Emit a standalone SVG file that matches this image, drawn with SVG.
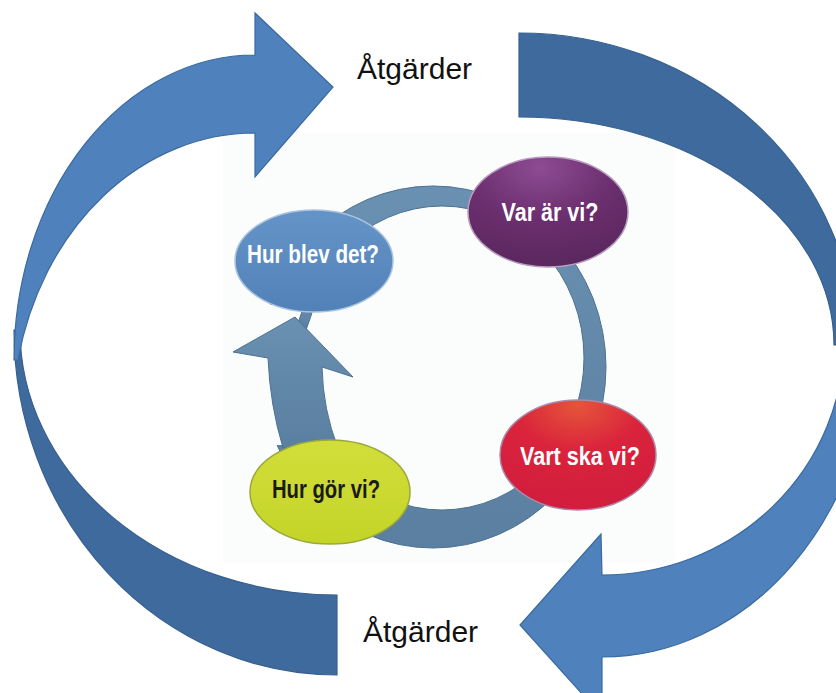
<svg xmlns="http://www.w3.org/2000/svg" width="836" height="693" viewBox="0 0 836 693">
  <defs>
    <style>
      .big-light { fill: #4F81BD; stroke: #3A6A9E; stroke-width: 1.2; }
      .big-dark { fill: #3F6A9D; stroke: #36608F; stroke-width: 1.2; }
      .ring { fill: url(#ringGrad); stroke: #4C7192; stroke-width: 1; }
      .lbl { font-family: "Liberation Sans", Arial, sans-serif; font-size: 30px; fill: #111111; }
      .node-text { font-family: "Liberation Sans", Arial, sans-serif; font-weight: bold; font-size: 25px; text-anchor: middle; }
    </style>
    <linearGradient id="ringGrad" x1="0" y1="0" x2="0" y2="1">
      <stop offset="0" stop-color="#6A90B2"/>
      <stop offset="1" stop-color="#5A7FA0"/>
    </linearGradient>
    <linearGradient id="blueGrad" x1="0" y1="0" x2="0" y2="1">
      <stop offset="0" stop-color="#6494C7"/>
      <stop offset="1" stop-color="#5281B8"/>
    </linearGradient>
    <radialGradient id="purpleGrad" cx="0.45" cy="0.1" r="0.9">
      <stop offset="0" stop-color="#8E4C92"/>
      <stop offset="0.5" stop-color="#6C2F6F"/>
      <stop offset="1" stop-color="#5A275E"/>
    </radialGradient>
    <radialGradient id="redGrad" cx="0.5" cy="0.05" r="0.9">
      <stop offset="0" stop-color="#E5553A"/>
      <stop offset="0.45" stop-color="#DA243C"/>
      <stop offset="1" stop-color="#D21D3E"/>
    </radialGradient>
    <linearGradient id="yellowGrad" x1="0" y1="0" x2="0" y2="1">
      <stop offset="0" stop-color="#D2DE3A"/>
      <stop offset="1" stop-color="#C4D427"/>
    </linearGradient>
    <clipPath id="ringClip">
      <path clip-rule="evenodd" d="M0,0 H836 V693 H0 Z M200,305 H345 V445 H200 Z"/>
    </clipPath>
  </defs>

  <rect x="0" y="0" width="836" height="693" fill="#FFFFFF"/>
  <rect x="223" y="133" width="451" height="430" fill="#FBFCFC"/>

  <g id="connectors">
    <!-- left: dark back crescent and light arrow -->
    <path class="big-dark" d="M14,330 A323,345 0 0,0 337,675 L337,595 A317,265 0 0,1 20,330 Z"/>
    <path class="big-light" d="M14,360 A241,305 0 0,1 255,55 L255,13 L333,87 L255,177 L255,133 A242,287 0 0,0 18,360 Z"/>
    <!-- right: dark back crescent and light arrow -->
    <path class="big-dark" d="M519,33 A336,312 0 0,1 855,345 L834,345 A315,228 0 0,0 519,117 Z"/>
    <path class="big-light" d="M602,575 A242,235 0 0,0 844,340 L872,340 A270,317 0 0,1 602,657 L602,716 L520,625 L601,534 Z"/>

    <!-- inner cycle ring -->
    <path class="ring" clip-path="url(#ringClip)" fill-rule="evenodd" d="M260,367 a173,181 0 1,0 346,0 a173,181 0 1,0 -346,0 Z M300,358 a142,152 0 1,0 284,0 a142,152 0 1,0 -284,0 Z"/>
    <path class="ring" d="M297,326 Q302,313 305,300 L315,300 Q312,315 306,330 Z"/>
    <path class="ring" d="M283,448 Q270,405 268,358 L233,352 L295,317 L353,377 L322,367 Q323,410 338,448 Z"/>
  </g>

  <g id="label-top">
    <text class="lbl" x="357" y="79">Åtgärder</text>
  </g>
  <g id="label-bottom">
    <text class="lbl" x="363" y="642">Åtgärder</text>
  </g>

  <g id="node-hur-blev-det">
    <ellipse cx="314" cy="261" rx="79" ry="51" fill="url(#blueGrad)" stroke="#A9C3E0" stroke-width="1.5"/>
    <text class="node-text" x="313" y="263" fill="#FFFFFF" textLength="132" lengthAdjust="spacingAndGlyphs">Hur blev det?</text>
  </g>
  <g id="node-var-ar-vi">
    <ellipse cx="548" cy="212" rx="80" ry="55" fill="url(#purpleGrad)" stroke="#B79CC0" stroke-width="1.5"/>
    <text class="node-text" x="550" y="221" fill="#FFFFFF" textLength="97" lengthAdjust="spacingAndGlyphs">Var är vi?</text>
  </g>
  <g id="node-vart-ska-vi">
    <ellipse cx="578" cy="455" rx="78" ry="55" fill="url(#redGrad)" stroke="#A98AA8" stroke-width="1.5"/>
    <text class="node-text" x="580" y="465" fill="#FFFFFF" textLength="120" lengthAdjust="spacingAndGlyphs">Vart ska vi?</text>
  </g>
  <g id="node-hur-gor-vi">
    <ellipse cx="330" cy="492" rx="80" ry="52" fill="url(#yellowGrad)" stroke="#9AA83A" stroke-width="1.5"/>
    <text class="node-text" x="326" y="498" fill="#1A1A1A" textLength="108" lengthAdjust="spacingAndGlyphs">Hur gör vi?</text>
  </g>
</svg>
